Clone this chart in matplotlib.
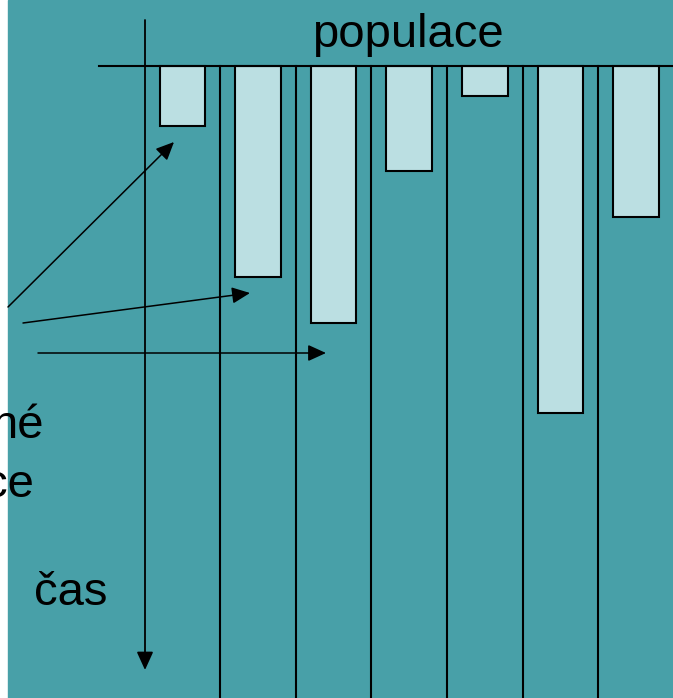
import numpy as np
import matplotlib
matplotlib.use("Agg")
import matplotlib.pyplot as plt

# ── Data ──────────────────────────────────────────────────────────────────────
# population size of each isolated sub-population (drawn downward from top line)
populations = [60, 211, 257, 105, 30, 347, 151]
top_label = "populace"
time_label = "čas"
side_label = ["né", "ce"]

# ── Style ─────────────────────────────────────────────────────────────────────
TEAL = "#48A0A8"
BAR = "#BBDFE2"
W, H = 673, 698
TOP_Y = 66
COL0, COL_STEP, BAR_W = 182.4, 75.6, 45.5

plt.rcParams["font.family"] = ["Liberation Sans", "DejaVu Sans"]

fig = plt.figure(figsize=(W / 100, H / 100), dpi=100)
fig.patch.set_facecolor("white")
ax = fig.add_axes([0, 0, 1, 1])
ax.set_xlim(0, W)
ax.set_ylim(H, 0)
ax.axis("off")

# teal slide background, white strip at the left edge
ax.axvspan(8, W, color=TEAL, zorder=0)

# bars hanging from the top line
x = COL0 + COL_STEP * np.arange(len(populations))
ax.bar(x, populations, bottom=TOP_Y, width=BAR_W, color=BAR,
       edgecolor="black", linewidth=1.5, zorder=3)

# column dividers
for xd in x[:-1] + COL_STEP / 2:
    ax.plot([xd, xd], [TOP_Y, H], color="black", lw=1.5, zorder=2)

# top line
ax.plot([99, W], [TOP_Y, TOP_Y], color="black", lw=1.5, zorder=4)

# time axis arrow
arrow_style = "-|>,head_length=1.1,head_width=0.5"
ax.annotate("", xy=(145, 670), xytext=(145, 20),
            arrowprops=dict(arrowstyle=arrow_style, mutation_scale=10,
                            color="black", lw=1.3, shrinkA=0, shrinkB=0),
            zorder=4)

# pointer arrows from the side label
for (x0, y0), (x1, y1) in [((8, 307), (174, 142)),
                           ((23, 323), (250, 293)),
                           ((38, 353), (326, 353))]:
    ax.annotate("", xy=(x1, y1), xytext=(x0, y0),
                arrowprops=dict(arrowstyle=arrow_style, mutation_scale=10,
                                color="black", lw=1.1, shrinkA=0, shrinkB=0),
                zorder=5)

# texts
ax.text(408, 47, top_label, fontsize=34, ha="center", va="baseline", zorder=6)
ax.text(108, 605, time_label, fontsize=34, ha="right", va="baseline", zorder=6)
ax.text(44, 438, side_label[0], fontsize=34, ha="right", va="baseline", zorder=6)
ax.text(34, 497, side_label[1], fontsize=34, ha="right", va="baseline", zorder=6)

fig.savefig("out.png", dpi=100, facecolor=fig.get_facecolor())
